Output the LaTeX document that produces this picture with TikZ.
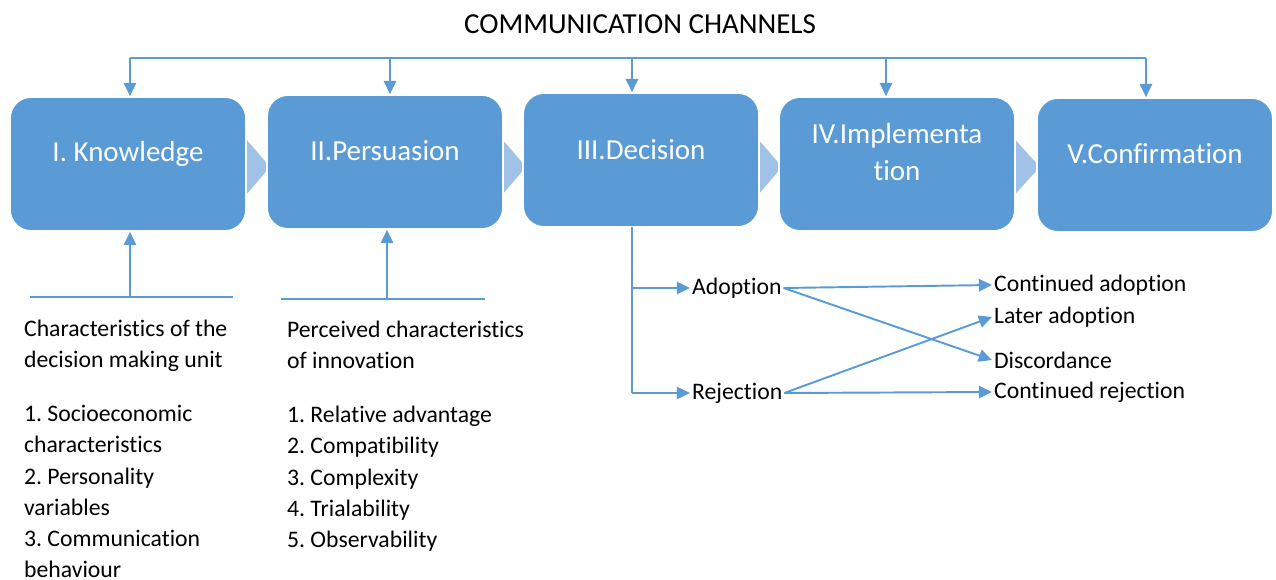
\documentclass[tikz,border=0pt]{standalone}
\usepackage{fontspec}
\setmainfont[Ligatures=NoCommon]{Carlito}
\usetikzlibrary{arrows.meta}
\frenchspacing

\definecolor{stageblue}{RGB}{91,155,213}
\definecolor{chevblue}{RGB}{160,194,230}

\begin{document}
\begin{tikzpicture}[x=0.02cm, y=-0.02cm,
    stage/.style={fill=stageblue, draw=white, line width=1pt, rounded corners=0.42cm,
        minimum width=4.72cm, minimum height=2.68cm},
    stagetext/.style={text=white, font=\fontsize{16.5}{21.5}\selectfont, align=center},
    conn/.style={stageblue, line width=1.1pt},
    flow/.style={conn, -{Triangle[length=7.5pt, width=7pt]}},
    txt/.style={font=\fontsize{13.5}{17.8}\selectfont, inner sep=1pt}]
    \useasboundingbox (0,0) rectangle (1276,580);

    % Title
    \node[font=\fontsize{16.5}{20}\selectfont] (title) at (640,24) {COMMUNICATION CHANNELS};

    % Chevrons between the stages
    \fill[chevblue] (240,132) -- (270,167) -- (240,202) -- cycle;
    \fill[chevblue] (496,132) -- (526,167) -- (496,202) -- cycle;
    \fill[chevblue] (752,132) -- (782,167) -- (752,202) -- cycle;
    \fill[chevblue] (1008,132) -- (1040,167) -- (1008,202) -- cycle;

    % Stages
    \node[stage] (know) at (128,164) {};
    \node[stage] (pers) at (385,162) {};
    \node[stage] (deci) at (641,160) {};
    \node[stage] (impl) at (897,164) {};
    \node[stage] (conf) at (1155,165) {};
    \node[stagetext] at ([yshift=0.2cm]know.center) {I. Knowledge};
    \node[stagetext] at ([yshift=0.22cm]pers.center) {II.Persuasion};
    \node[stagetext] at ([yshift=0.2cm]deci.center) {III.Decision};
    \node[stagetext] at ([yshift=0.24cm]impl.center) {IV.Implementa\\tion};
    \node[stagetext] at ([yshift=0.22cm]conf.center) {V.Confirmation};

    % Communication channels bus
    \coordinate (bus1) at (130,58);
    \coordinate (bus2) at (390,58);
    \coordinate (bus3) at (632,58);
    \coordinate (bus4) at (886,58);
    \coordinate (bus5) at (1146,58);
    \draw[conn] (bus1) -- (bus5);
    \draw[flow] (bus1) -- (bus1 |- know.north);
    \draw[flow] (bus2) -- (bus2 |- pers.north);
    \draw[flow] (bus3) -- (bus3 |- deci.north);
    \draw[flow] (bus4) -- (bus4 |- impl.north);
    \draw[flow] (bus5) -- (bus5 |- conf.north);

    % Inputs from below
    \coordinate (feed1) at (130,297);
    \coordinate (feed2) at (387,298);
    \draw[conn] (30,297) -- (233,297);
    \draw[conn] (281,299) -- (485,299);
    \draw[flow] (feed1) -- (feed1 |- know.south);
    \draw[flow] (feed2) -- (feed2 |- pers.south);

    \node[txt, anchor=north west, align=left] (unit) at (22,318)
        {Characteristics of the\\decision making unit\\[12.8pt]1. Socioeconomic\\characteristics\\2. Personality\\variables\\3. Communication\\behaviour};
    \node[txt, anchor=north west, align=left] (innov) at (285,319)
        {Perceived characteristics\\of innovation\\[12.8pt]1. Relative advantage\\2. Compatibility\\3. Complexity\\4. Trialability\\5. Observability};

    % Decision outcomes
    \node[txt, anchor=west] (adopt) at (690,288) {Adoption};
    \node[txt, anchor=west] (reject) at (690,393) {Rejection};
    \node[txt, anchor=west] (contadopt) at (992,285) {Continued adoption};
    \node[txt, anchor=west] (lateradopt) at (992,317) {Later adoption};
    \node[txt, anchor=west] (discord) at (992,360) {Discordance};
    \node[txt, anchor=west] (contreject) at (992,392) {Continued rejection};

    \coordinate (trunk) at (632,227);
    \draw[conn] (trunk) -- (trunk |- reject.west);
    \draw[flow] (trunk |- adopt.west) -- (adopt.west);
    \draw[flow] (trunk |- reject.west) -- (reject.west);

    \draw[flow] (adopt.east) -- (contadopt.west);
    \draw[flow] (adopt.east) -- (discord.west);
    \draw[flow] (reject.east) -- (lateradopt.west);
    \draw[flow] (reject.east) -- (contreject.west);
\end{tikzpicture}
\end{document}
